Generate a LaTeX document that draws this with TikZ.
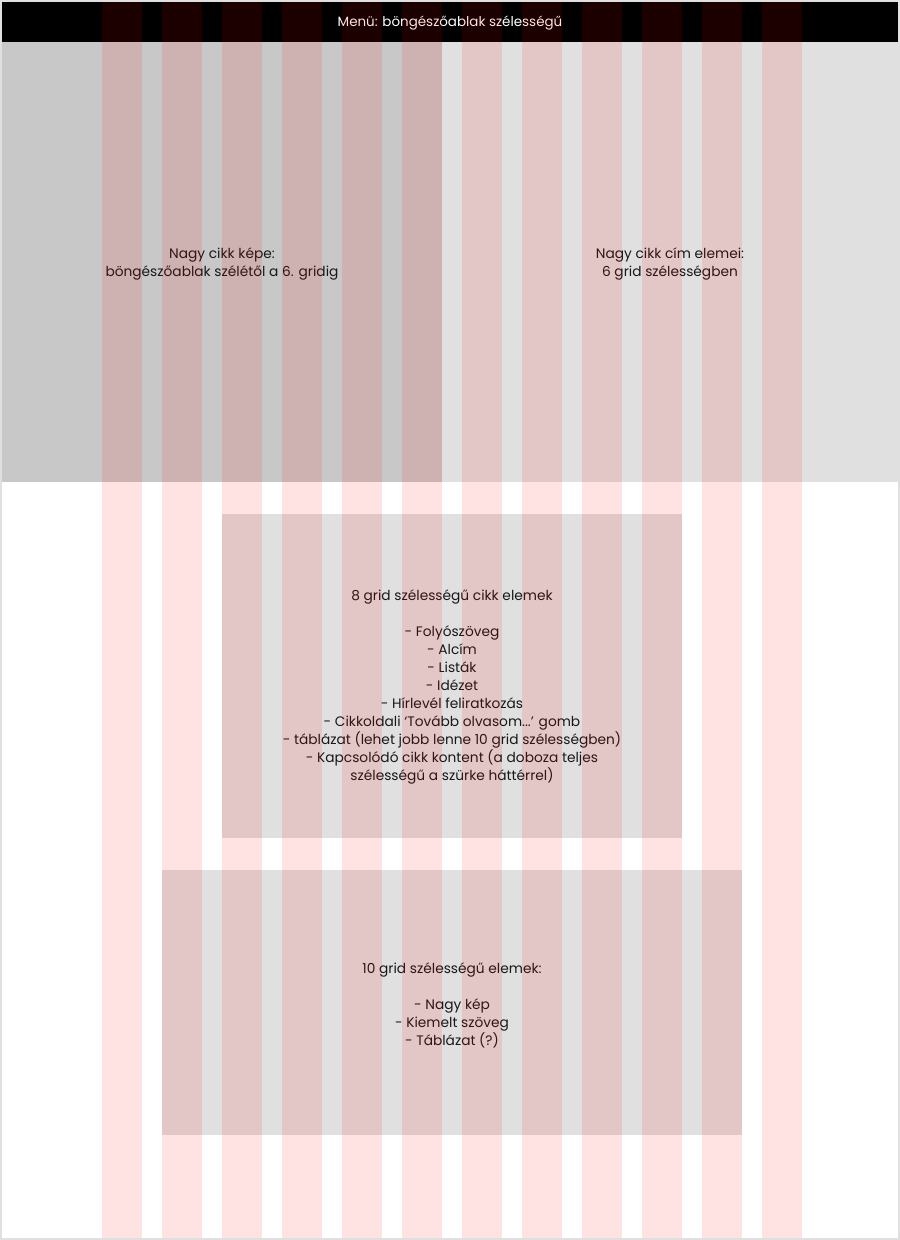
\documentclass[tikz,border=0pt]{standalone}
\usepackage{fontspec}
\setmainfont{Poppins}
\usepackage{xcolor}
\usepackage{tikz}

\definecolor{keretszurke}{HTML}{E0E0E0}
\definecolor{sotetszurke}{HTML}{C8C8C8}
\definecolor{szoveg}{HTML}{1A1718}

\begin{document}
\begin{tikzpicture}[x=1bp,y=-1bp,
    felirat/.style={align=center, text=szoveg, inner sep=0pt, font=\fontsize{13.8}{18}\selectfont}]
                    \useasboundingbox (0,0) rectangle (900,1240);
                    \fill[keretszurke] (0,0) rectangle (900,1240);
                    \fill[white] (2,2) rectangle (898,1238);

                    % menu, nagy cikk
                    \fill[black] (2,2) rectangle (898,42);
                    \fill[sotetszurke] (2,42) rectangle (442,482);
                    \fill[keretszurke] (442,42) rectangle (898,482);

                    % 8 es 10 grid dobozok
                    \fill[keretszurke] (222,514) rectangle (682,838);
                    \fill[keretszurke] (162,870) rectangle (742,1135);

                    \node[felirat, text=white, font=\fontsize{13.5}{18}\selectfont] (menu) at (450,23) {Menü: böngészőablak szélességű};
                    \node[felirat] (kep) at (222,264) {Nagy cikk képe:\\böngészőablak szélétől a 6. gridig};
                    \node[felirat] (cim) at (670,264) {Nagy cikk cím elemei:\\6 grid szélességben};
                    \node[felirat] (nyolc) at (452,687) {8 grid szélességű cikk elemek\\[18bp]
                        - Folyószöveg\\- Alcím\\- Listák\\- Idézet\\- Hírlevél feliratkozás\\
                        - Cikkoldali ‘Tovább olvasom...’ gomb\\
                        - táblázat (lehet jobb lenne 10 grid szélességben)\\
                        - Kapcsolódó cikk kontent (a doboza teljes\\szélességű a szürke háttérrel)};
                    \node[felirat] (tiz) at (452,1005) {10 grid szélességű elemek:\\[18bp]
                        - Nagy kép\\- Kiemelt szöveg\\- Táblázat (?)};

                    % grid oszlopok
                    \foreach \i in {0,...,11}
                        \fill[red, opacity=0.11] (102+\i*60,2) rectangle (142+\i*60,1238);
                \end{tikzpicture}
\end{document}
